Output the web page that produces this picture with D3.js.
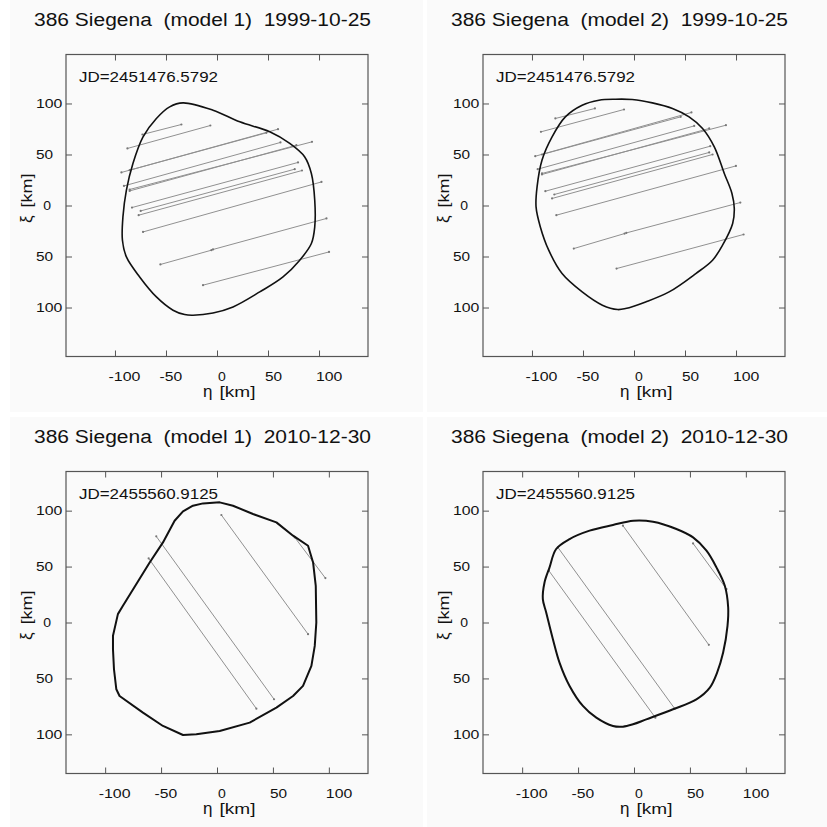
<!DOCTYPE html>
<html><head><meta charset="utf-8">
<script src="https://cdn.jsdelivr.net/npm/d3@7"></script>
<style>
body{margin:0;background:#fff}
svg{display:block}
text{font-family:"Liberation Sans",Arial,Helvetica,sans-serif;fill:#111;white-space:pre}
</style>
</head><body>
<svg id="chart" width="827" height="827"></svg>
<script>
// ---------------- data ----------------
const titles = [
  "386 Siegena  (model 1)  1999-10-25",
  "386 Siegena  (model 2)  1999-10-25",
  "386 Siegena  (model 1)  2010-12-30",
  "386 Siegena  (model 2)  2010-12-30"
];
const jdLabels = ["JD=2451476.5792","JD=2451476.5792","JD=2455560.9125","JD=2455560.9125"];
const axisLimits = [148, 148, 135, 135];
const tickValues = [-100, -50, 0, 50, 100];
const xTickLabels = ["-100", "-50", "0", "50", "100"];
const yTickLabels = ["100", "50", "0", "50", "100"]; // for values 100,50,0,-50,-100
const yTickValues = [100, 50, 0, -50, -100];
const xAxisSymbol = "η", yAxisSymbol = "ξ", axisUnit = "[km]";

// shape outlines [eta, xi] in km
const shape1 = [[-33.3,100.6],[-3.9,93.4],[22.3,82],[51.7,72.2],[71.3,60.8],[86,47.6],[92.5,31.4],[95.8,5.2],[95.8,-21],[92.5,-37.3],[81.1,-53.6],[64.7,-70],[41.9,-84.7],[15.7,-99.4],[-3.9,-105.3],[-23.5,-107.5],[-31.7,-106.9],[-43.1,-102.6],[-59.4,-89.6],[-75.8,-70],[-88.8,-50.4],[-92.7,-34],[-92.2,-11.2],[-88.8,15],[-82.4,41.2],[-72.5,67.3],[-59.4,85.3],[-46.4,96.7]];
const shape2 = [[-18.1,104.2],[-1.7,103.9],[18,100.6],[37.7,95.1],[54,86.9],[67.2,75.5],[78.7,57.5],[88.5,31.4],[96,11.8],[98.3,-2.9],[96.7,-17.6],[86.8,-38.9],[77,-53.6],[60.6,-66.7],[34.4,-84.7],[11.4,-94.5],[-8.3,-101],[-16,-102],[-31,-97.7],[-50.8,-84.7],[-70.5,-66.7],[-83.6,-43.8],[-91.8,-21],[-96,-1.4],[-95,18.2],[-90.2,44.4],[-80.3,67.3],[-67.3,86.9],[-50.8,98.3],[-34.4,103.2]];
const shape3 = [[-30.4,99.4],[-21.5,104.4],[-12.5,106.5],[2.4,107.4],[14.3,104.4],[32.2,97],[53.1,89.5],[68,77.6],[81.4,68.6],[85.9,53.7],[88.3,32.8],[88.8,0],[87.4,-20.9],[84.4,-38.8],[76.9,-56.7],[68,-65.7],[53.1,-76.1],[29.2,-89.5],[2.4,-97],[-18.5,-100],[-30.4,-100.6],[-48.3,-92.5],[-66.2,-80.6],[-87.1,-65.7],[-90,-59.7],[-92.1,-41.8],[-93,-23.9],[-93,-11.9],[-88.6,7.5],[-84.1,14.9],[-60.2,53.7],[-48.3,71.6],[-37.9,91]];
const shape4 = [[-0.6,91],[17,90.1],[37.9,83.6],[52.8,76.1],[64.8,64.2],[73.7,49.3],[81.2,32.8],[84.2,13.4],[83.6,-3],[79.7,-26.9],[74.3,-44.8],[67.8,-58.2],[55.8,-68.7],[34.9,-77.6],[11,-86.6],[-0.9,-91],[-9.9,-93.1],[-18.8,-92.5],[-33.7,-85.1],[-45.7,-74.6],[-57.6,-56.7],[-66.6,-35.8],[-72.5,-14.9],[-78.5,9],[-81.5,20.9],[-80,35.8],[-75.5,49.3],[-69.6,65.7],[-57.6,74.6],[-39.7,82.1],[-18.8,87.2]];

// occultation chords [eta1, xi1, eta2, xi2] in km
const chords1 = [
  [-73.1,69.6,-34.9,79.4],[-87.8,55.9,-6.5,78.4],[-93.7,32.4,59.8,74.8],[-85.6,34.6,48.4,71.2],
  [-91.2,19.2,62.2,61.8],[-85.6,14.3,77.8,59.1],[-85.6,15.7,93.1,62.4],[-83.3,-2,79.4,42.2],
  [-74.8,-5.3,76.2,35.6],[-76.8,-9.5,83.3,34.3],[-72.5,-25.9,102.4,23.1],[-55.5,-57.8,-5.5,-43.8],
  [-3.9,-43.1,107.3,-12.7],[-13.7,-78.1,109.8,-45.5]
];
const chords2 = [
  [-77.1,85.3,-38.3,95.1],[-91.2,72.2,-9.8,94.1],[-96.8,48.3,56.3,91.2],[-90.2,50,45.8,86.9],
  [-94.4,35.6,59,78],[-90.2,30.4,73.7,75.5],[-90.2,31.4,90.1,78.7],[-86.9,14,74.7,58.1],
  [-78.1,10.8,73.7,52],[-80.3,6.9,77,50],[-76.1,-9.5,99.9,38.8],[-59,-42.2,-9.2,-27.5],
  [-7.6,-26.9,104.2,2.9],[-17.1,-61.8,107.4,-28.4]
];
const chords3 = [[-54.3,77,51,-68.6],[-61.1,57.3,35.2,-77],[3.9,96.1,81.4,-10.4],[69.5,76.1,96.9,39.7]];
const chords4 = [[-68.1,67.2,36.4,-77],[-76.1,46.3,19.1,-85.1],[-9.9,86.6,66.9,-20],[52.8,70.7,82.7,29.9]];

const shapes = [shape1, shape2, shape3, shape4];
const chordSets = [chords1, chords2, chords3, chords4];

// ---------------- layout ----------------
const panelRects = [[10,0,413,412],[427,0,400,412],[10,417,413,410],[427,417,400,410]];
const svg = d3.select("#chart");
svg.append("rect").attr("width",827).attr("height",827).attr("fill","#fff");

function labelWidth(s){
  let w = 0;
  for (const c of s) w += (c === "-") ? 5.5 : 9.3;
  return w - 1.5;
}

panelRects.forEach((pr, i) => {
  const [ox, oy, pw, ph] = pr;
  const g = svg.append("g");
  g.append("rect").attr("x",ox).attr("y",oy).attr("width",pw).attr("height",ph).attr("fill","#fafafa");

  const L = ox + 56, T = oy + 54.5, S = 302;
  const lim = axisLimits[i];
  const x = d3.scaleLinear().domain([-lim, lim]).range([L, L + S]);
  const y = d3.scaleLinear().domain([-lim, lim]).range([T + S, T]);

  // title
  g.append("text").attr("x", L - 32).attr("y", T - 28.3)
    .attr("font-size", 18).attr("textLength", 337).attr("lengthAdjust","spacingAndGlyphs")
    .text(titles[i]);

  // frame
  g.append("rect").attr("x",L).attr("y",T).attr("width",S).attr("height",S)
    .attr("fill","none").attr("stroke","#555").attr("stroke-width",1.2);

  // ticks (inward on all four sides)
  const tickStyle = sel => { sel.select(".domain").remove(); sel.selectAll("line").attr("stroke","#555"); };
  g.append("g").attr("transform",`translate(0,${T+S})`)
    .call(d3.axisBottom(x).tickValues(tickValues).tickSize(-6).tickFormat("")).call(tickStyle);
  g.append("g").attr("transform",`translate(0,${T})`)
    .call(d3.axisTop(x).tickValues(tickValues).tickSize(-6).tickFormat("")).call(tickStyle);
  g.append("g").attr("transform",`translate(${L},0)`)
    .call(d3.axisLeft(y).tickValues(tickValues).tickSize(-6).tickFormat("")).call(tickStyle);
  g.append("g").attr("transform",`translate(${L+S},0)`)
    .call(d3.axisRight(y).tickValues(tickValues).tickSize(-6).tickFormat("")).call(tickStyle);

  // x tick labels
  xTickLabels.forEach((lab, k) => {
    const off = lab === "0" ? 1 : (lab[0] === "-" ? -6.5 : -3);
    g.append("text").attr("x", x(tickValues[k]) + off).attr("y", T + S + 24)
      .attr("font-size", 12).attr("textLength", labelWidth(lab)).attr("lengthAdjust","spacingAndGlyphs")
      .text(lab);
  });
  // y tick labels
  yTickLabels.forEach((lab, k) => {
    const sx = lab === "0" ? L - 22.7 : L - 30;
    g.append("text").attr("x", sx).attr("y", y(yTickValues[k]) + 4.3)
      .attr("font-size", 12).attr("textLength", labelWidth(lab)).attr("lengthAdjust","spacingAndGlyphs")
      .text(lab);
  });

  // axis labels
  const xl = g.append("text").attr("x", L + S/2 - 14).attr("y", T + S + 40).attr("font-size", 15);
  xl.append("tspan").attr("font-size", 17).text(xAxisSymbol);
  xl.append("tspan").attr("dx", 7).attr("textLength", 36).attr("lengthAdjust","spacingAndGlyphs").text(axisUnit);

  const yl = g.append("text").attr("transform", `translate(${L - 34.5},${T + S/2 + 17.5}) rotate(-90)`)
    .attr("font-size", 15);
  yl.append("tspan").attr("font-size", 17).text(yAxisSymbol);
  yl.append("tspan").attr("dx", 8).attr("textLength", 34).attr("lengthAdjust","spacingAndGlyphs").text(axisUnit);

  // JD label
  g.append("text").attr("x", L + 13).attr("y", T + 27.4)
    .attr("font-size", 14).attr("textLength", 139).attr("lengthAdjust","spacingAndGlyphs")
    .text(jdLabels[i]);

  // chords
  const cg = g.append("g");
  cg.selectAll("line").data(chordSets[i]).join("line")
    .attr("x1", d => x(d[0])).attr("y1", d => y(d[1]))
    .attr("x2", d => x(d[2])).attr("y2", d => y(d[3]))
    .attr("stroke", "#909090").attr("stroke-width", 1);
  const ends = chordSets[i].flatMap(d => [[d[0], d[1]], [d[2], d[3]]]);
  cg.selectAll("circle").data(ends).join("circle")
    .attr("cx", d => x(d[0])).attr("cy", d => y(d[1])).attr("r", 1.1).attr("fill", "#777");

  // shape outline
  const line = d3.line().x(d => x(d[0])).y(d => y(d[1]))
    .curve(i === 2 ? d3.curveLinearClosed : d3.curveCatmullRomClosed.alpha(0.5));
  g.append("path").attr("d", line(shapes[i]))
    .attr("fill","none").attr("stroke","#111").attr("stroke-width", i >= 2 ? 2 : 1.6)
    .attr("stroke-linejoin","round");
});
</script>
</body></html>
